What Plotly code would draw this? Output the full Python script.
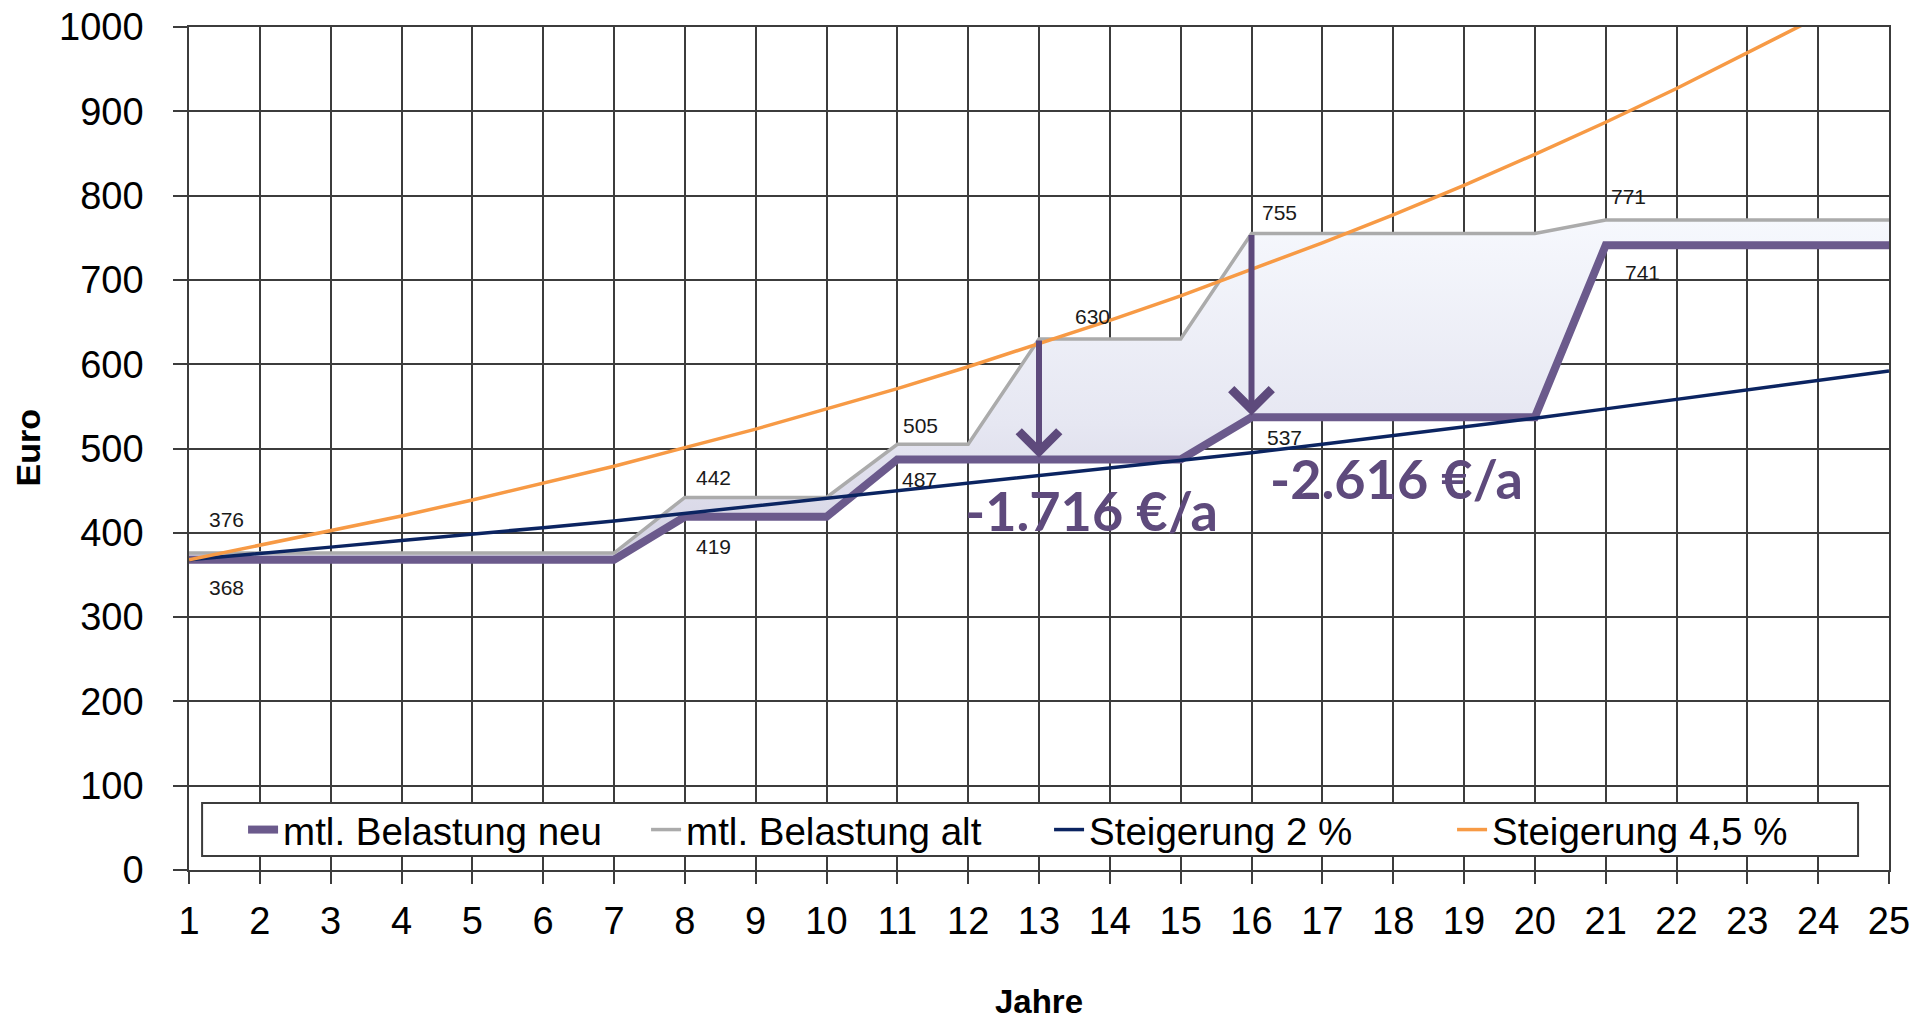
import plotly.graph_objects as go

# ---------------- data ----------------
jahre = list(range(1, 26))
belastung_neu = [368, 368, 368, 368, 368, 368, 368, 419, 419, 419, 487, 487, 487, 487, 487,
                 537, 537, 537, 537, 537, 741, 741, 741, 741, 741]
belastung_alt = [376, 376, 376, 376, 376, 376, 376, 442, 442, 442, 505, 505, 630, 630, 630,
                 755, 755, 755, 755, 755, 771, 771, 771, 771, 771]
steigerung_2 = [368, 375, 383, 391, 398, 406, 414, 423, 431, 440, 449, 458, 467, 476, 486,
                495, 505, 515, 526, 536, 547, 558, 569, 580, 592]
steigerung_45 = [368, 385, 402, 420, 439, 459, 479, 501, 523, 547, 571, 597, 624, 652, 681,
                 712, 744, 777, 812, 849, 887, 927, 969, 1012, 1058]

ersparnis_texte = ["-1.716 €/a", "-2.616 €/a"]
pfeil_jahre = [13, 16]

y_ticks = [0, 100, 200, 300, 400, 500, 600, 700, 800, 900, 1000]

# data-label placement (year-index, xshift, yshift)
alt_labels = [(0, 37, 34), (7, 29, 20), (10, 23, 19), (12, 53, 22), (15, 28, 21), (20, 23, 24)]
neu_labels = [(0, 37, -28), (7, 29, -30), (10, 22, -20), (15, 33, -20), (20, 37, -27)]

# ---------------- styles ----------------
C_NEU = "#6B5A8C"
C_ARROW = "#5E4A7C"
C_ALT = "#ABABAB"
C_2 = "#0B2461"
C_45 = "#F79A45"
GRID = "#3C3C3C"
FONT = "Liberation Sans, Arial, sans-serif"

fig = go.Figure()

# fill between old and new burden
fig.add_trace(go.Scatter(x=jahre, y=belastung_alt, mode="lines", line=dict(width=0),
                         showlegend=False, hoverinfo="skip"))
fig.add_trace(go.Scatter(x=jahre, y=belastung_neu, mode="lines", line=dict(width=0),
                         fill="tonexty",
                         fillgradient=dict(type="vertical",
                                           colorscale=[[0, "rgb(212,210,227)"],
                                                       [0.4, "rgb(230,231,242)"],
                                                       [1, "rgb(246,248,253)"]]),
                         showlegend=False, hoverinfo="skip"))

fig.add_trace(go.Scatter(x=jahre, y=belastung_neu, mode="lines", name="mtl. Belastung neu",
                         line=dict(color=C_NEU, width=8)))
fig.add_trace(go.Scatter(x=jahre, y=belastung_alt, mode="lines", name="mtl. Belastung alt",
                         line=dict(color=C_ALT, width=3.5)))
fig.add_trace(go.Scatter(x=jahre, y=steigerung_2, mode="lines", name="Steigerung 2 %",
                         line=dict(color=C_2, width=3.5)))
fig.add_trace(go.Scatter(x=jahre, y=steigerung_45, mode="lines", name="Steigerung 4,5 %",
                         line=dict(color=C_45, width=3.5)))

annotations = []
for idx, dx, dy in alt_labels:
    annotations.append(dict(x=jahre[idx], y=belastung_alt[idx], text=str(belastung_alt[idx]),
                            showarrow=False, xshift=dx, yshift=dy,
                            font=dict(family=FONT, size=21, color="#1a1a1a")))
for idx, dx, dy in neu_labels:
    annotations.append(dict(x=jahre[idx], y=belastung_neu[idx], text=str(belastung_neu[idx]),
                            showarrow=False, xshift=dx, yshift=dy,
                            font=dict(family=FONT, size=21, color="#1a1a1a")))

# arrows
for j in pfeil_jahre:
    i = jahre.index(j)
    annotations.append(dict(x=j, y=belastung_neu[i] + 2, ax=j, ay=belastung_alt[i],
                            xref="x", yref="y", axref="x", ayref="y",
                            showarrow=True, arrowhead=4, arrowsize=1.3, arrowwidth=6,
                            arrowcolor=C_ARROW, text=""))

# savings texts
annotations.append(dict(x=13.74, y=426, text="<b>" + ersparnis_texte[0] + "</b>", showarrow=False,
                        font=dict(family="Lato, sans-serif", size=54, color=C_ARROW)))
annotations.append(dict(x=18.04, y=464, text="<b>" + ersparnis_texte[1] + "</b>", showarrow=False,
                        font=dict(family="Lato, sans-serif", size=54, color=C_ARROW)))

# axis titles
annotations.append(dict(x=0, y=0.5, xref="paper", yref="paper", xshift=-162, text="<b>Euro</b>",
                        textangle=-90, showarrow=False, xanchor="center", yanchor="middle",
                        font=dict(family=FONT, size=34, color="black")))
annotations.append(dict(x=0.5, y=0, xref="paper", yref="paper", yshift=-131, text="<b>Jahre</b>",
                        showarrow=False, xanchor="center", yanchor="middle",
                        font=dict(family=FONT, size=33, color="black")))

# legend frame (drawn as a shape so the entries can sit indented inside it)
legend_frame = dict(type="rect", xref="paper", yref="paper",
                    x0=0.0077, x1=0.9818, y0=0.0166, y1=0.0795,
                    fillcolor="white", line=dict(color=GRID, width=2), layer="above")

fig.update_layout(
    width=1917, height=1019,
    margin=dict(l=189, r=28, t=27, b=149, autoexpand=False),
    paper_bgcolor="white", plot_bgcolor="white",
    font=dict(family=FONT, color="black"),
    annotations=annotations,
    shapes=[legend_frame],
    legend=dict(orientation="h", x=0.0318, y=0.0474, xanchor="left", yanchor="middle",
                traceorder="normal", entrywidth=358, entrywidthmode="pixels",
                bgcolor="rgba(0,0,0,0)", borderwidth=0,
                font=dict(family=FONT, size=38.5, color="black")),
    showlegend=True,
)

fig.update_xaxes(range=[1, 25], tickvals=jahre, ticktext=[str(j) for j in jahre],
                 showgrid=True, gridcolor=GRID, gridwidth=1.5, automargin=False,
                 showline=True, linecolor=GRID, linewidth=1.5, mirror=True,
                 ticks="outside", ticklen=12, tickcolor=GRID, tickwidth=1.5,
                 ticklabelstandoff=5, zeroline=False,
                 tickfont=dict(family=FONT, size=38, color="black"))
fig.update_yaxes(range=[0, 1000], tickvals=y_ticks,
                 showgrid=True, gridcolor=GRID, gridwidth=1.5, automargin=False,
                 showline=True, linecolor=GRID, linewidth=1.5, mirror=True,
                 ticks="outside", ticklen=14, tickcolor=GRID, tickwidth=1.5,
                 ticklabelstandoff=22, zeroline=False,
                 tickfont=dict(family=FONT, size=38, color="black"))

fig.write_html("out.html")
